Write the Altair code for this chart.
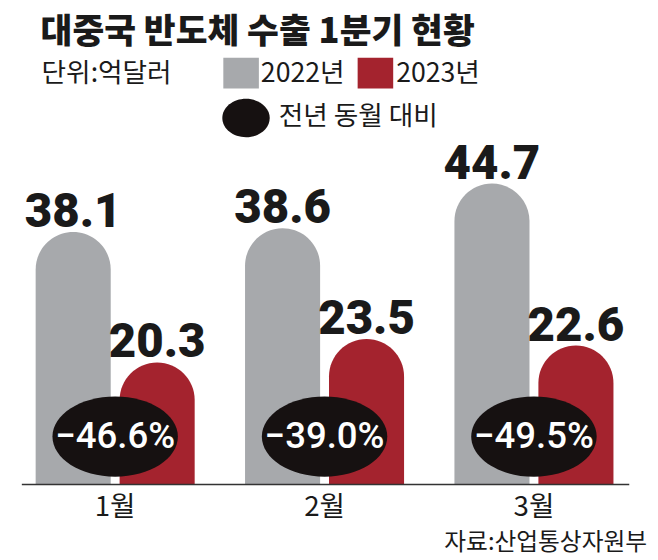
import altair as alt
import pandas as pd

# ---- data ----
months = ["1월", "2월", "3월"]
years = ["2022년", "2023년"]
v2022 = [38.1, 38.6, 44.7]
v2023 = [20.3, 23.5, 22.6]
yoy = [-46.6, -39.0, -49.5]

title_text = "대중국 반도체 수출 1분기 현황"
unit_text = "단위:억달러"
yoy_legend = "전년 동월 대비"
source_text = "자료:산업통상자원부"

GRAY = "#a7a9ac"
RED = "#a4232e"
BLACK = "#161111"
KFONT = "Noto Sans CJK KR"
NFONT = "Roboto, Liberation Sans, sans-serif"

bars = pd.DataFrame(
    [{"month": m, "year": years[0], "value": v} for m, v in zip(months, v2022)]
    + [{"month": m, "year": years[1], "value": v} for m, v in zip(months, v2023)]
)
bars["label"] = bars["value"].map(lambda v: f"{v:.1f}")
chg = pd.DataFrame({"month": months, "chg": yoy})
chg["label"] = chg["chg"].map(lambda v: f"\u2212{abs(v):.1f}%")

BASE = 3.64  # value at the drawn baseline
xs = alt.Scale(domain=months, range=[2.5, 638.5], paddingInner=0, paddingOuter=0)
xos = alt.Scale(domain=years, range=[25.5, 186.5], paddingInner=0.106, paddingOuter=0)
ys = alt.Scale(domain=[BASE, 50], range=[479, 135], zero=False, nice=False)

X = alt.X("month:N", scale=xs, axis=None, sort=months)
XO = alt.XOffset("year:N", scale=xos, sort=years)

bar_layer = alt.Chart(bars).mark_bar(
    cornerRadiusTopLeft=38, cornerRadiusTopRight=38
).encode(
    x=X, xOffset=XO,
    y=alt.Y("value:Q", scale=ys, axis=None),
    y2=alt.datum(BASE),
    color=alt.Color("year:N", scale=alt.Scale(domain=years, range=[GRAY, RED]), legend=None),
)

val_layer = alt.Chart(bars).mark_text(
    font=NFONT, fontWeight=900, fontSize=48, baseline="alphabetic", dy=-5, color="#1a1a1a"
).encode(
    x=X, xOffset=XO,
    y=alt.Y("value:Q", scale=ys, axis=None),
    text="label:N",
)

ell_layer = alt.Chart(chg).mark_point(
    shape="M -1 0 A 1 0.64 0 1 0 1 0 A 1 0.64 0 1 0 -1 0 Z",
    filled=True, size=127 * 127, color=BLACK, opacity=1, strokeWidth=0,
).encode(x=X, y=alt.value(430.5))

chg_text = alt.Chart(chg).mark_text(
    font=NFONT, fontSize=37, fontWeight=500, color="white", baseline="middle"
).encode(x=X, y=alt.value(431), text="label:N")

month_text = alt.Chart(pd.DataFrame({"month": months})).mark_text(
    font=KFONT, fontSize=28, color="#1a1a1a", baseline="middle"
).encode(x=X, y=alt.value(503), text="month:N")

axis_rule = alt.Chart(pd.DataFrame({"a": [0]})).mark_rule(
    color="#333333", strokeWidth=1.5
).encode(x=alt.value(14), x2=alt.value(629), y=alt.value(479))

# ---- header / legend ----
def txt(s, x, y, size, weight="normal", align="left", color="#1a1a1a", font=KFONT):
    return alt.Chart(pd.DataFrame({"t": [s]})).mark_text(
        font=font, fontSize=size, fontWeight=weight, align=align, baseline="middle", color=color
    ).encode(x=alt.value(x), y=alt.value(y), text="t:N")

def box(x0, x1, y0, y1, color):
    return alt.Chart(pd.DataFrame({"a": [0]})).mark_rect(color=color).encode(
        x=alt.value(x0), x2=alt.value(x1), y=alt.value(y0), y2=alt.value(y1)
    )

title_layer = txt(title_text, 33, 21, 35, weight=900)
unit_layer = txt(unit_text, 34, 63, 27)
leg_gray = box(218, 254, 47, 78, GRAY)
leg_gray_t = txt(years[0], 256, 63, 27)
leg_red = box(354, 390, 47, 78, RED)
leg_red_t = txt(years[1], 393, 63, 27)
leg_ell = alt.Chart(pd.DataFrame({"a": [0]})).mark_point(
    shape="M -1 0 A 1 0.81 0 1 0 1 0 A 1 0.81 0 1 0 -1 0 Z",
    filled=True, size=48 * 48, color=BLACK, opacity=1, strokeWidth=0,
).encode(x=alt.value(241), y=alt.value(108))
leg_ell_t = txt(yoy_legend, 274, 107, 27)
source_layer = txt(source_text, 647, 538, 24, align="right")

chart = alt.layer(
    bar_layer, val_layer, ell_layer, chg_text, axis_rule, month_text,
    title_layer, unit_layer, leg_gray, leg_gray_t, leg_red, leg_red_t,
    leg_ell, leg_ell_t, source_layer,
).properties(
    width=650, height=552, padding=0,
    autosize=alt.AutoSizeParams(type="none"),
).configure_view(stroke=None)

chart.save("out.html", embed_options={"renderer": "svg", "actions": False})
